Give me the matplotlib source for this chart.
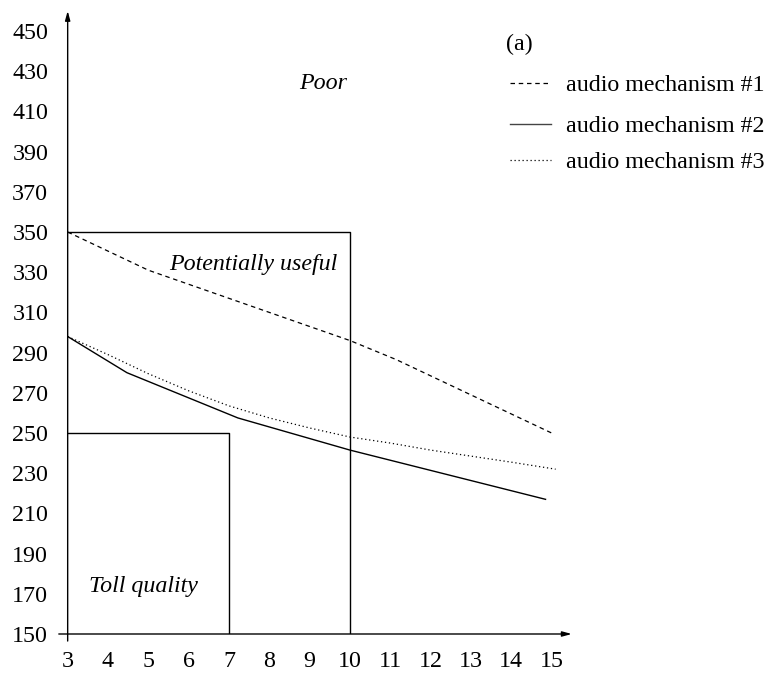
import matplotlib
matplotlib.use("Agg")
import matplotlib.pyplot as plt

plt.rcParams["font.family"] = ["Liberation Serif", "DejaVu Serif"]

# Delay vs. quality curves for three audio mechanisms
x_mech1 = [3, 5, 10, 11.15, 15]
y_mech1 = [350, 331, 296, 286.5, 250]

x_mech2 = [3, 4.47, 7.22, 10, 14.85]
y_mech2 = [298, 280, 257.5, 241.5, 217]

x_mech3 = [3, 4, 5, 6, 7, 8, 9, 10, 11, 12, 13, 14, 15.1]
y_mech3 = [298, 289, 279.5, 271, 263.5, 257.5, 252.5, 248, 245, 241.5, 238.5, 235.5, 232]

x_ticks = list(range(3, 16))
y_ticks = list(range(150, 451, 20))

labels = ["audio mechanism #1", "audio mechanism #2", "audio mechanism #3"]

FS = 17.3

fig = plt.figure(figsize=(7.69, 6.78), dpi=100)
ax = fig.add_axes([0.0880, 0.0649, 0.6555, 0.919])
ax.set_xlim(3, 15.5)
ax.set_ylim(150, 460)

for s in ax.spines.values():
    s.set_visible(False)
ax.set_xticks(x_ticks)
ax.set_yticks(y_ticks)
ax.tick_params(axis="both", length=0, labelsize=FS)
ax.tick_params(axis="x", pad=12)
ax.tick_params(axis="y", pad=14)

dash = (0, (3.6, 3.0))
dot = (0, (1, 2.2))

ax.plot(x_mech1, y_mech1, color="black", lw=0.9, linestyle=dash)
ax.plot(x_mech2, y_mech2, color="black", lw=1.0, linestyle="-")
ax.plot(x_mech3, y_mech3, color="black", lw=0.9, linestyle=dot)

# Quality regions
ax.plot([3, 10, 10], [350, 350, 150], color="black", lw=1.0)
ax.plot([3, 7, 7], [250, 250, 150], color="black", lw=1.0)

# Axes with arrow heads
arrow = dict(arrowstyle="-|>,head_length=0.55,head_width=0.15",
             lw=1.0, color="black", shrinkA=0, shrinkB=0)
ax.annotate("", xy=(15.5, 150), xytext=(2.78, 150), arrowprops=arrow,
            annotation_clip=False)
ax.annotate("", xy=(3, 460), xytext=(3, 146.5), arrowprops=arrow,
            annotation_clip=False)

ax.text(9.33, 424, "Poor", style="italic", fontsize=FS, ha="center", va="center")
ax.text(7.6, 333.6, "Potentially useful", style="italic", fontsize=FS,
        ha="center", va="center")
ax.text(4.87, 173.4, "Toll quality", style="italic", fontsize=FS,
        ha="center", va="center")

# Legend
ax.text(14.19, 443.3, "(a)", fontsize=FS, ha="center", va="center", clip_on=False)
styles = [dict(lw=0.9, linestyle=dash),
          dict(lw=1.0, linestyle="-", color="#444444"),
          dict(lw=0.9, linestyle=dot)]
leg_y = [424.1, 403.7, 385.8]
for lab, st, yy in zip(labels, styles, leg_y):
    kw = dict(color="black")
    kw.update(st)
    ax.plot([13.98, 14.98], [yy, yy], clip_on=False, **kw)
    ax.text(15.35, yy - 1.0, lab, fontsize=FS, ha="left", va="center", clip_on=False)

fig.savefig("out.png", dpi=100)
